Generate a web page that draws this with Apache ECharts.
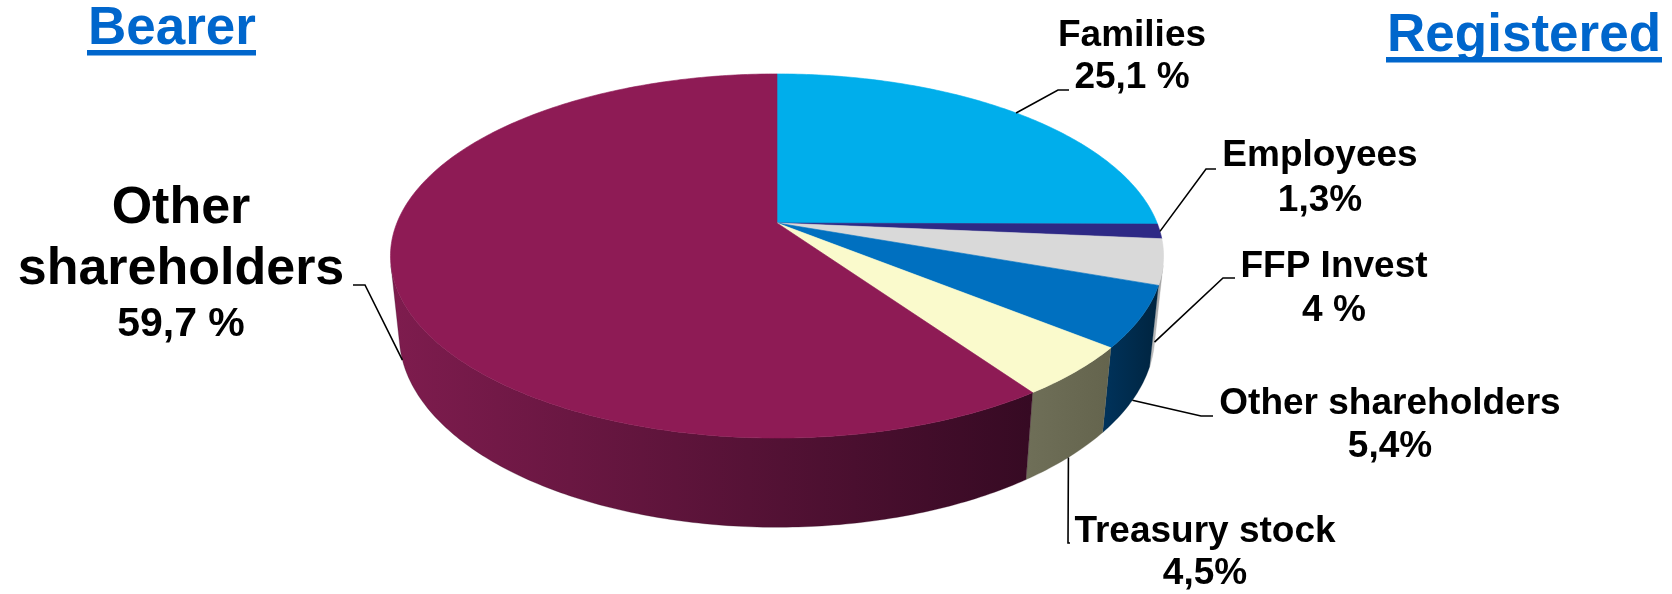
<!DOCTYPE html>
<html>
<head>
<meta charset="utf-8">
<script src="https://cdn.jsdelivr.net/npm/echarts@6/dist/echarts.min.js"></script>
<style>
  html, body { margin: 0; padding: 0; background: #ffffff; }
  #chart { width: 1672px; height: 594px; }
</style>
</head>
<body>
<div id="chart"></div>
<script>
// Shareholding structure, slices listed clockwise from 12 o'clock
const categories = ['Families', 'Employees', 'FFP Invest', 'Other shareholders', 'Treasury stock', 'Other shareholders'];
const shares = [25.1, 1.3, 4, 5.4, 4.5, 59.7];
const percentSuffix = [' %', '%', ' %', '%', '%', ' %'];
const groupTitles = ['Bearer', 'Registered'];

// Slice colours: top face, and side wall (left -> right shade)
const topColors = ['#00AEEB', '#2E2985', '#D9D9D9', '#0070C0', '#FAFACC', '#8E1B55'];
const sideColors = [
  ['#0088BB', '#0077AA'],
  ['#201E60', '#1A1850'],
  ['#C8C8C8', '#9C9C9C'],
  ['#00335C', '#00243F'],
  ['#6F6F58', '#64644D'],
  ['#7E1C4E', '#360A23']
];

// Perspective view of the disc
const view = {
  cx: 777, cy: 223,       // projected centre of the top face
  scale: 1858,            // focal scale (px per radius unit at unit depth)
  dist: 4.888,            // camera distance in radius units
  tilt: 27.6,             // camera elevation, degrees
  thickness: 0.237        // disc height in radius units
};

// Label placement: line baselines, font sizes, leader elbow and end
const labelLayout = [
  { x: 1132, baselines: [47, 89],  sizes: [37, 37], rimDepth: 0, elbow: [1058, 90],  end: [1069, 90] },
  { x: 1320, baselines: [167, 212], sizes: [37, 37], rimDepth: 0, elbow: [1206, 169], end: [1216, 169] },
  { x: 1334, baselines: [278, 322], sizes: [37, 37], rimDepth: 1, elbow: [1223, 278], end: [1235, 278] },
  { x: 1390, baselines: [415, 458], sizes: [37, 37], rimDepth: 1, elbow: [1201, 416], end: [1213, 416] },
  { x: 1205, baselines: [543, 585], sizes: [37, 37], rimDepth: 1, elbow: [1068, 543], end: [1070, 543] },
  { x: 181,  baselines: [225, 286, 337], sizes: [52, 52, 41], rimDepth: 1, wrap: true, elbow: [365, 285], end: [353, 285] }
];

const FONT = '"Liberation Sans", Arial, sans-serif';
const total = shares.reduce((s, v) => s + v, 0);
const startAngles = [];
const endAngles = [];
let acc = 0;
shares.forEach(v => {
  startAngles.push(90 - 360 * acc / total);
  acc += v;
  endAngles.push(90 - 360 * acc / total);
});

const rad = d => d * Math.PI / 180;
const sinT = Math.sin(rad(view.tilt)), cosT = Math.cos(rad(view.tilt));

// Project a rim point (angle in degrees, depth 0 = top, 1 = bottom)
function project(angle, depth, r) {
  const radius = r === undefined ? 1 : r;
  const a = rad(angle);
  const px = radius * Math.cos(a);
  const py = radius * Math.sin(a);
  const z = view.thickness * depth;
  const d = view.dist + py * cosT + z * sinT;
  const sy = py * sinT - z * cosT;
  return [view.cx + view.scale * px / d, view.cy - view.scale * sy / d];
}

function rim(a1, a2, depth) {
  const n = Math.max(2, Math.ceil(Math.abs(a1 - a2) / 0.75));
  const pts = [];
  for (let i = 0; i <= n; i++) pts.push(project(a1 + (a2 - a1) * i / n, depth));
  return pts;
}

// Part of the outer wall facing the camera
const visLimit = Math.asin(-1 / (view.dist * cosT)) * 180 / Math.PI; // about -13 deg
const visFront = visLimit;
const visBack = -180 - visLimit;

function baselineToMiddle(baseline, size) {
  return baseline - 0.31 * size;
}

function renderSlice(params, api) {
  const i = params.dataIndex;
  const a1 = startAngles[i], a2 = endAngles[i];
  const children = [];

  // side wall
  const s1 = Math.min(a1, visFront);
  const s2 = Math.max(a2, visBack);
  if (s1 > s2) {
    const pts = rim(s1, s2, 0).concat(rim(s2, s1, 1));
    children.push({
      type: 'polygon',
      shape: { points: pts },
      style: {
        fill: new echarts.graphic.LinearGradient(0, 0, 1, 0, [
          { offset: 0, color: sideColors[i][0] },
          { offset: 1, color: sideColors[i][1] }
        ]),
        stroke: sideColors[i][1], lineWidth: 0.3
      }
    });
  }

  // top face
  const topPts = [project(0, 0, 0)].concat(rim(a1, a2, 0));
  children.push({
    type: 'polygon',
    shape: { points: topPts },
    style: { fill: topColors[i], stroke: topColors[i], lineWidth: 0.6 }
  });
  return { type: 'group', children: children };
}

function renderLabel(params, api) {
  const i = params.dataIndex;
  const lay = labelLayout[i];
  const value = api.value(0);
  const mid = (startAngles[i] + endAngles[i]) / 2;
  const anchor = project(mid, lay.rimDepth);
  const lines = (lay.wrap ? categories[i].split(' ') : [categories[i]])
    .concat([String(value).replace('.', ',') + percentSuffix[i]]);
  const children = [{
    type: 'polyline',
    shape: { points: [anchor, lay.elbow, lay.end] },
    style: { stroke: '#000000', lineWidth: 1.6, fill: null }
  }];
  lines.forEach((t, k) => {
    children.push({
      type: 'text',
      style: {
        text: t,
        x: lay.x,
        y: baselineToMiddle(lay.baselines[k], lay.sizes[k]),
        align: 'center',
        verticalAlign: 'middle',
        font: 'bold ' + lay.sizes[k] + 'px ' + FONT,
        fill: '#000000'
      }
    });
  });
  return { type: 'group', children: children };
}

const chart = echarts.init(document.getElementById('chart'), null, { renderer: 'canvas' });

chart.setOption({
  backgroundColor: '#ffffff',
  animation: false,
  graphic: [
    {
      type: 'text', left: 88, top: baselineToMiddle(45, 53) - 26,
      style: { text: groupTitles[0], font: 'bold 53px ' + FONT, fill: '#0066CC' }
    },
    { type: 'rect', shape: { x: 87, y: 50, width: 169, height: 5.5 }, style: { fill: '#0066CC' } },
    {
      type: 'text', right: 11, top: baselineToMiddle(52, 53) - 26,
      style: { text: groupTitles[1], font: 'bold 53px ' + FONT, fill: '#0066CC' }
    },
    { type: 'rect', shape: { x: 1386, y: 57, width: 276, height: 5.5 }, style: { fill: '#0066CC' } }
  ],
  series: [
    {
      type: 'custom',
      name: 'disc',
      coordinateSystem: 'none',
      renderItem: renderSlice,
      data: shares.map(v => [v]),
      silent: true
    },
    {
      type: 'custom',
      name: 'labels',
      coordinateSystem: 'none',
      renderItem: renderLabel,
      data: shares.map(v => [v]),
      silent: true,
      z: 3
    }
  ]
});
</script>
</body>
</html>
